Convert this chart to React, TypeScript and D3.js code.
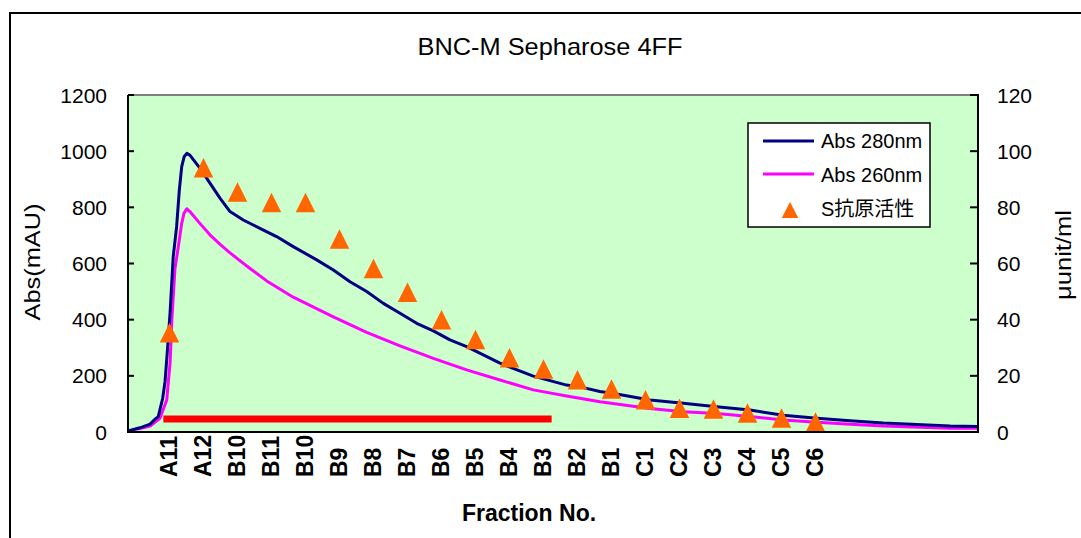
import * as d3 from "d3";

// fraction labels along the bottom axis and where they sit (in fraction units)
const fractionLabels = ["A11", "A12", "B10", "B11", "B10", "B9", "B8", "B7", "B6", "B5", "B4", "B3", "B2", "B1", "C1", "C2", "C3", "C4", "C5", "C6"];
const fractionPos = [1.22, 2.22, 3.22, 4.22, 5.22, 6.22, 7.22, 8.22, 9.22, 10.22, 11.22, 12.22, 13.22, 14.22, 15.22, 16.22, 17.22, 18.22, 19.22, 20.22];

// S antigen activity (μunit/ml), one per fraction
const antigenActivity = [35.3, 94.1, 85.5, 81.7, 81.7, 68.7, 58.2, 49.8, 40.0, 32.9, 26.4, 22.4, 18.6, 15.3, 11.5, 8.5, 8.2, 6.8, 5.0, 3.6];

// Abs 280nm trace
const abs280Pos = [0, 0.35, 0.65, 0.79, 0.89, 1.02, 1.09, 1.16, 1.24, 1.33, 1.43, 1.51, 1.58, 1.65, 1.73, 1.82, 2.12, 2.41, 2.71, 3.0, 3.39, 3.88, 4.37, 4.86, 5.55, 6.04, 6.53, 7.02, 7.51, 8.0, 8.49, 8.98, 9.47, 9.96, 10.94, 11.92, 12.9, 13.39, 13.88, 14.37, 15.35, 16.33, 17.31, 18.29, 19.27, 20.26, 21.24, 22.22, 23.2, 24.18, 25];
const abs280Val = [4, 15, 28, 45, 55, 120, 180, 292, 430, 624, 731, 862, 945, 980, 992, 986, 939, 886, 832, 785, 755, 725, 696, 660, 613, 577, 535, 500, 458, 423, 387, 360, 328, 304, 245, 199, 167, 158, 144, 135, 114, 102, 90, 78, 60, 49, 40, 32, 27, 21, 20];

// Abs 260nm trace
const abs260Pos = [0, 0.35, 0.65, 0.94, 1.14, 1.24, 1.29, 1.38, 1.48, 1.58, 1.65, 1.73, 1.82, 2.12, 2.41, 2.71, 3.0, 3.29, 3.59, 4.08, 4.86, 6.04, 7.02, 8.0, 8.98, 9.96, 10.94, 11.92, 12.9, 13.88, 15.35, 16.33, 17.31, 18.29, 19.27, 20.26, 21.24, 22.22, 24.18, 25];
const abs260Val = [4, 12, 21, 49, 114, 250, 400, 580, 660, 743, 780, 795, 785, 742, 702, 668, 638, 610, 582, 538, 480, 410, 355, 307, 262, 221, 185, 150, 128, 108, 84, 72, 66, 55, 43, 35, 28, 21, 13, 13];

// pooled fractions bar
const poolRange = [1.04, 12.46];
const poolLevel = 46;

const leftTicks = [0, 200, 400, 600, 800, 1000, 1200];
const rightTicks = [0, 20, 40, 60, 80, 100, 120];

const legendItems = ["Abs 280nm", "Abs 260nm", "S抗原活性"];

const W = 1081;
const H = 538;
const left = 128;
const right = 978;
const top = 95;
const bottom = 432;

const font = "'Liberation Sans', Arial, sans-serif";

const tri = (w: number, h: number) => `M0,${-h / 2}L${w / 2},${h / 2}L${-w / 2},${h / 2}Z`;

export default function App() {
  const x = d3.scaleLinear().domain([0, 25]).range([left, right]);
  const yL = d3.scaleLinear().domain([0, 1200]).range([bottom, top]);
  const yR = d3.scaleLinear().domain([0, 120]).range([bottom, top]);

  const line = d3
    .line<[number, number]>()
    .x((d) => x(d[0]))
    .y((d) => yL(d[1]));

  const d280 = line(abs280Pos.map((p, i) => [p, abs280Val[i]]));
  const d260 = line(abs260Pos.map((p, i) => [p, abs260Val[i]]));

  return (
    <div style={{ position: "absolute", left: 0, top: 0 }}>
      <svg width={W} height={H} style={{ display: "block", background: "#fff" }} fontFamily={font}>
        {/* outer frame */}
        <rect x={10} y={13} width={1200} height={700} fill="none" stroke="#000" strokeWidth={2} />

        <text x={550} y={55} textAnchor="middle" fontSize={24} textLength={265} lengthAdjust="spacingAndGlyphs">
          BNC-M Sepharose 4FF
        </text>

        {/* plot area */}
        <rect x={left} y={top} width={right - left} height={bottom - top} fill="#CCFFCC" />
        <line x1={left} x2={right} y1={top} y2={top} stroke="#808080" strokeWidth={2} />

        {/* left axis */}
        {leftTicks.map((t) => (
          <g key={"l" + t}>
            <line x1={left} x2={left + 6} y1={yL(t)} y2={yL(t)} stroke="#000" strokeWidth={2} />
            <text x={107} y={yL(t)} textAnchor="end" dominantBaseline="central" fontSize={21}>
              {t}
            </text>
          </g>
        ))}
        {/* right axis */}
        {rightTicks.map((t) => (
          <g key={"r" + t}>
            <line x1={right - 8} x2={right} y1={yR(t)} y2={yR(t)} stroke="#000" strokeWidth={2} />
            <text x={997} y={yR(t)} dominantBaseline="central" fontSize={21}>
              {t}
            </text>
          </g>
        ))}

        <text
          transform={`translate(32,262) rotate(-90)`}
          textAnchor="middle"
          dominantBaseline="central"
          fontSize={22}
          textLength={117}
          lengthAdjust="spacingAndGlyphs"
        >
          Abs(mAU)
        </text>
        <text
          transform={`translate(1063,255) rotate(-90)`}
          textAnchor="middle"
          dominantBaseline="central"
          fontSize={22}
          textLength={90}
          lengthAdjust="spacingAndGlyphs"
        >
          μunit/ml
        </text>

        {/* pool bar */}
        <line x1={x(poolRange[0])} x2={x(poolRange[1])} y1={yL(poolLevel)} y2={yL(poolLevel)} stroke="#FF0000" strokeWidth={7} />

        <path d={d260 ?? ""} fill="none" stroke="#FF00FF" strokeWidth={3} strokeLinejoin="round" />
        <path d={d280 ?? ""} fill="none" stroke="#000080" strokeWidth={3} strokeLinejoin="round" />

        {antigenActivity.map((v, i) => (
          <path key={"t" + i} d={tri(19.5, 19.5)} transform={`translate(${x(fractionPos[i])},${yR(v)})`} fill="#FF6600" />
        ))}

        {/* axis lines */}
        <line x1={left} x2={left} y1={top} y2={bottom + 1} stroke="#000" strokeWidth={2} />
        <line x1={right} x2={right} y1={top - 1} y2={bottom + 1} stroke="#000" strokeWidth={2} />
        <line x1={left - 1} x2={right + 1} y1={bottom} y2={bottom} stroke="#000" strokeWidth={2} />

        {/* fraction labels */}
        {fractionLabels.map((lab, i) => (
          <text
            key={"f" + i}
            transform={`translate(${x(fractionPos[i])},477) rotate(-90)`}
            dominantBaseline="central"
            fontSize={23}
            fontWeight="bold"
          >
            {lab}
          </text>
        ))}

        <text x={529} y={521} textAnchor="middle" fontSize={23} fontWeight="bold">
          Fraction No.
        </text>

        {/* legend */}
        <rect x={748} y={123} width={182} height={104} fill="#fff" stroke="#000" strokeWidth={1.5} />
        <line x1={763} x2={814} y1={141} y2={141} stroke="#000080" strokeWidth={3} />
        <line x1={763} x2={814} y1={174} y2={174} stroke="#FF00FF" strokeWidth={3} />
        <path d={tri(16.5, 16)} transform="translate(790,210)" fill="#FF6600" />
        {legendItems.map((t, i) => (
          <text
            key={"lg" + i}
            x={821}
            y={141 + i * 34}
            dominantBaseline="central"
            fontSize={20}
            fontFamily={i === 2 ? "'Liberation Sans', 'Noto Sans CJK JP', sans-serif" : font}
          >
            {t}
          </text>
        ))}
      </svg>
    </div>
  );
}
